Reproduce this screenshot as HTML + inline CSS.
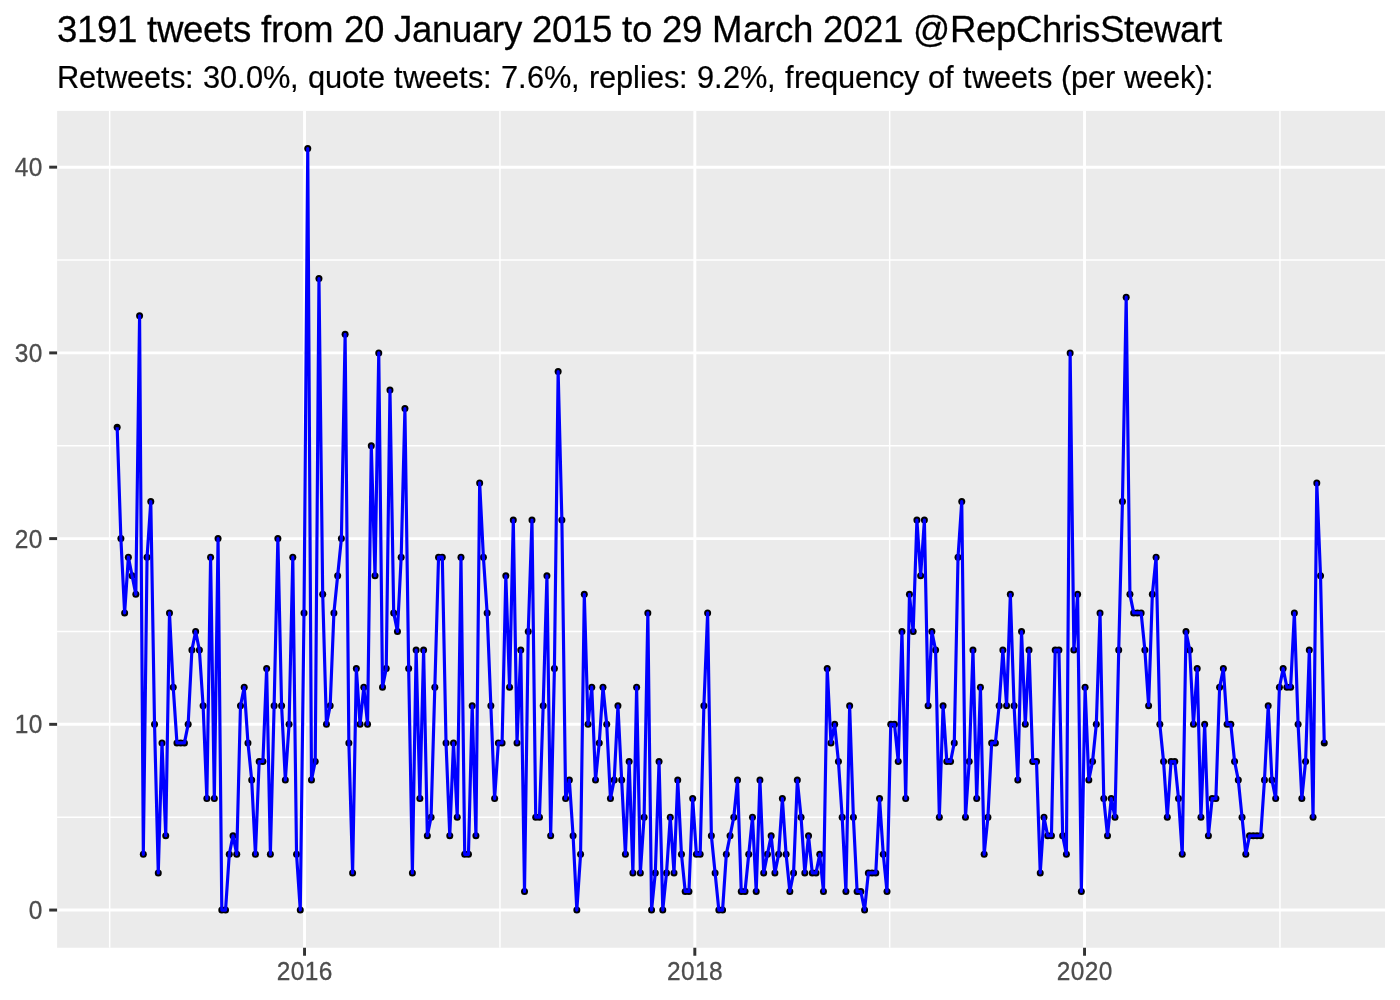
<!DOCTYPE html>
<html lang="en">
<head>
<meta charset="utf-8">
<title>3191 tweets from 20 January 2015 to 29 March 2021 @RepChrisStewart</title>
<style>
html,body{margin:0;padding:0;background:#fff;}
body{width:1400px;height:1000px;overflow:hidden;font-family:"Liberation Sans",Arial,Helvetica,sans-serif;}
svg{display:block;}
svg text{font-family:"Liberation Sans",Arial,Helvetica,sans-serif;white-space:pre;}
.ttl{font-size:36.67px;fill:#000;stroke:#000;stroke-width:0.25;}
.sub{font-size:30.8px;fill:#000;stroke:#000;stroke-width:0.2;}
.ax{font-size:24.44px;fill:#4d4d4d;stroke:#4d4d4d;stroke-width:0.3;}
.gM{stroke:#fff;stroke-width:2.96;fill:none;}
.gm{stroke:#fff;stroke-width:1.48;fill:none;}
.tk{stroke:#333;stroke-width:2.96;fill:none;}
.ln{stroke:#0000ff;stroke-width:3.15;fill:none;stroke-linejoin:round;stroke-linecap:butt;}
.pt circle{fill:#000;}
</style>
</head>
<body>
<svg width="1400" height="1000" viewBox="0 0 1400 1000">
<rect x="0" y="0" width="1400" height="1000" fill="#ffffff"/>
<text class="ttl" transform="translate(0,41.9) scale(1,1.03)" x="57 77 97 117 137 147 157 183 203 223 233 251 261 271 283 303 334 344 364 384 394 412 432 452 472 492 504 522 532 552 572 592 612 622 632 652 662 682 702 712 743 763 775 793 813 823 843 863 883 903 913 950 976 996 1016 1042 1062 1074 1082 1100 1124 1134 1154 1180 1200 1212" y="0">3191 tweets from 20 January 2015 to 29 March 2021 @RepChrisStewart</text>
<text class="sub" transform="translate(0,87.9) scale(1,1.01)" x="57 79 96 105 127 144 161 170 185 194 203 220 237 246 263 290 299 308 325 342 359 368 385 394 403 425 442 459 468 483 492 501 518 527 544 571 580 589 599 616 633 640 647 664 679 688 697 714 723 740 767 776 785 794 804 821 838 855 872 889 904 919 928 945 954 963 972 994 1011 1028 1037 1052 1061 1071 1088 1105 1115 1124 1146 1163 1180 1195 1205" y="0">Retweets: 30.0%, quote tweets: 7.6%, replies: 9.2%, frequency of tweets (per week):</text>
<rect x="57.1" y="110.9" width="1327.9" height="836.85" fill="#ebebeb"/>
<g class="gm">
<line x1="57.1" x2="1385" y1="817.19" y2="817.19"/>
<line x1="57.1" x2="1385" y1="631.47" y2="631.47"/>
<line x1="57.1" x2="1385" y1="445.75" y2="445.75"/>
<line x1="57.1" x2="1385" y1="260.03" y2="260.03"/>
<line x1="109.68" x2="109.68" y1="110.9" y2="947.75"/>
<line x1="499.95" x2="499.95" y1="110.9" y2="947.75"/>
<line x1="889.68" x2="889.68" y1="110.9" y2="947.75"/>
<line x1="1279.95" x2="1279.95" y1="110.9" y2="947.75"/>
</g>
<g class="gM">
<line x1="57.1" x2="1385" y1="910.05" y2="910.05"/>
<line x1="57.1" x2="1385" y1="724.33" y2="724.33"/>
<line x1="57.1" x2="1385" y1="538.61" y2="538.61"/>
<line x1="57.1" x2="1385" y1="352.89" y2="352.89"/>
<line x1="57.1" x2="1385" y1="167.17" y2="167.17"/>
<line x1="304.55" x2="304.55" y1="110.9" y2="947.75"/>
<line x1="694.82" x2="694.82" y1="110.9" y2="947.75"/>
<line x1="1084.55" x2="1084.55" y1="110.9" y2="947.75"/>
</g>
<g class="pt">
<circle cx="117.16" cy="427.18" r="3.5"/><circle cx="120.89" cy="538.61" r="3.5"/><circle cx="124.63" cy="612.9" r="3.5"/><circle cx="128.37" cy="557.18" r="3.5"/><circle cx="132.11" cy="575.75" r="3.5"/><circle cx="135.84" cy="594.33" r="3.5"/>
<circle cx="139.58" cy="315.75" r="3.5"/><circle cx="143.32" cy="854.33" r="3.5"/><circle cx="147.06" cy="557.18" r="3.5"/><circle cx="150.79" cy="501.47" r="3.5"/><circle cx="154.53" cy="724.33" r="3.5"/><circle cx="158.27" cy="872.91" r="3.5"/>
<circle cx="162" cy="742.9" r="3.5"/><circle cx="165.74" cy="835.76" r="3.5"/><circle cx="169.48" cy="612.9" r="3.5"/><circle cx="173.22" cy="687.19" r="3.5"/><circle cx="176.95" cy="742.9" r="3.5"/><circle cx="180.69" cy="742.9" r="3.5"/>
<circle cx="184.43" cy="742.9" r="3.5"/><circle cx="188.16" cy="724.33" r="3.5"/><circle cx="191.9" cy="650.04" r="3.5"/><circle cx="195.64" cy="631.47" r="3.5"/><circle cx="199.38" cy="650.04" r="3.5"/><circle cx="203.11" cy="705.76" r="3.5"/>
<circle cx="206.85" cy="798.62" r="3.5"/><circle cx="210.59" cy="557.18" r="3.5"/><circle cx="214.32" cy="798.62" r="3.5"/><circle cx="218.06" cy="538.61" r="3.5"/><circle cx="221.8" cy="910.05" r="3.5"/><circle cx="225.54" cy="910.05" r="3.5"/>
<circle cx="229.27" cy="854.33" r="3.5"/><circle cx="233.01" cy="835.76" r="3.5"/><circle cx="236.75" cy="854.33" r="3.5"/><circle cx="240.48" cy="705.76" r="3.5"/><circle cx="244.22" cy="687.19" r="3.5"/><circle cx="247.96" cy="742.9" r="3.5"/>
<circle cx="251.7" cy="780.05" r="3.5"/><circle cx="255.43" cy="854.33" r="3.5"/><circle cx="259.17" cy="761.47" r="3.5"/><circle cx="262.91" cy="761.47" r="3.5"/><circle cx="266.64" cy="668.61" r="3.5"/><circle cx="270.38" cy="854.33" r="3.5"/>
<circle cx="274.12" cy="705.76" r="3.5"/><circle cx="277.86" cy="538.61" r="3.5"/><circle cx="281.59" cy="705.76" r="3.5"/><circle cx="285.33" cy="780.05" r="3.5"/><circle cx="289.07" cy="724.33" r="3.5"/><circle cx="292.8" cy="557.18" r="3.5"/>
<circle cx="296.54" cy="854.33" r="3.5"/><circle cx="300.28" cy="910.05" r="3.5"/><circle cx="304.02" cy="612.9" r="3.5"/><circle cx="307.75" cy="148.6" r="3.5"/><circle cx="311.49" cy="780.05" r="3.5"/><circle cx="315.23" cy="761.47" r="3.5"/>
<circle cx="318.96" cy="278.6" r="3.5"/><circle cx="322.7" cy="594.33" r="3.5"/><circle cx="326.44" cy="724.33" r="3.5"/><circle cx="330.18" cy="705.76" r="3.5"/><circle cx="333.91" cy="612.9" r="3.5"/><circle cx="337.65" cy="575.75" r="3.5"/>
<circle cx="341.39" cy="538.61" r="3.5"/><circle cx="345.12" cy="334.32" r="3.5"/><circle cx="348.86" cy="742.9" r="3.5"/><circle cx="352.6" cy="872.91" r="3.5"/><circle cx="356.34" cy="668.61" r="3.5"/><circle cx="360.07" cy="724.33" r="3.5"/>
<circle cx="363.81" cy="687.19" r="3.5"/><circle cx="367.55" cy="724.33" r="3.5"/><circle cx="371.29" cy="445.75" r="3.5"/><circle cx="375.02" cy="575.75" r="3.5"/><circle cx="378.76" cy="352.89" r="3.5"/><circle cx="382.5" cy="687.19" r="3.5"/>
<circle cx="386.23" cy="668.61" r="3.5"/><circle cx="389.97" cy="390.03" r="3.5"/><circle cx="393.71" cy="612.9" r="3.5"/><circle cx="397.45" cy="631.47" r="3.5"/><circle cx="401.18" cy="557.18" r="3.5"/><circle cx="404.92" cy="408.61" r="3.5"/>
<circle cx="408.66" cy="668.61" r="3.5"/><circle cx="412.39" cy="872.91" r="3.5"/><circle cx="416.13" cy="650.04" r="3.5"/><circle cx="419.87" cy="798.62" r="3.5"/><circle cx="423.61" cy="650.04" r="3.5"/><circle cx="427.34" cy="835.76" r="3.5"/>
<circle cx="431.08" cy="817.19" r="3.5"/><circle cx="434.82" cy="687.19" r="3.5"/><circle cx="438.55" cy="557.18" r="3.5"/><circle cx="442.29" cy="557.18" r="3.5"/><circle cx="446.03" cy="742.9" r="3.5"/><circle cx="449.77" cy="835.76" r="3.5"/>
<circle cx="453.5" cy="742.9" r="3.5"/><circle cx="457.24" cy="817.19" r="3.5"/><circle cx="460.98" cy="557.18" r="3.5"/><circle cx="464.71" cy="854.33" r="3.5"/><circle cx="468.45" cy="854.33" r="3.5"/><circle cx="472.19" cy="705.76" r="3.5"/>
<circle cx="475.93" cy="835.76" r="3.5"/><circle cx="479.66" cy="482.89" r="3.5"/><circle cx="483.4" cy="557.18" r="3.5"/><circle cx="487.14" cy="612.9" r="3.5"/><circle cx="490.87" cy="705.76" r="3.5"/><circle cx="494.61" cy="798.62" r="3.5"/>
<circle cx="498.35" cy="742.9" r="3.5"/><circle cx="502.09" cy="742.9" r="3.5"/><circle cx="505.82" cy="575.75" r="3.5"/><circle cx="509.56" cy="687.19" r="3.5"/><circle cx="513.3" cy="520.04" r="3.5"/><circle cx="517.03" cy="742.9" r="3.5"/>
<circle cx="520.77" cy="650.04" r="3.5"/><circle cx="524.51" cy="891.48" r="3.5"/><circle cx="528.25" cy="631.47" r="3.5"/><circle cx="531.98" cy="520.04" r="3.5"/><circle cx="535.72" cy="817.19" r="3.5"/><circle cx="539.46" cy="817.19" r="3.5"/>
<circle cx="543.19" cy="705.76" r="3.5"/><circle cx="546.93" cy="575.75" r="3.5"/><circle cx="550.67" cy="835.76" r="3.5"/><circle cx="554.41" cy="668.61" r="3.5"/><circle cx="558.14" cy="371.46" r="3.5"/><circle cx="561.88" cy="520.04" r="3.5"/>
<circle cx="565.62" cy="798.62" r="3.5"/><circle cx="569.35" cy="780.05" r="3.5"/><circle cx="573.09" cy="835.76" r="3.5"/><circle cx="576.83" cy="910.05" r="3.5"/><circle cx="580.57" cy="854.33" r="3.5"/><circle cx="584.3" cy="594.33" r="3.5"/>
<circle cx="588.04" cy="724.33" r="3.5"/><circle cx="591.78" cy="687.19" r="3.5"/><circle cx="595.52" cy="780.05" r="3.5"/><circle cx="599.25" cy="742.9" r="3.5"/><circle cx="602.99" cy="687.19" r="3.5"/><circle cx="606.73" cy="724.33" r="3.5"/>
<circle cx="610.46" cy="798.62" r="3.5"/><circle cx="614.2" cy="780.05" r="3.5"/><circle cx="617.94" cy="705.76" r="3.5"/><circle cx="621.68" cy="780.05" r="3.5"/><circle cx="625.41" cy="854.33" r="3.5"/><circle cx="629.15" cy="761.47" r="3.5"/>
<circle cx="632.89" cy="872.91" r="3.5"/><circle cx="636.62" cy="687.19" r="3.5"/><circle cx="640.36" cy="872.91" r="3.5"/><circle cx="644.1" cy="817.19" r="3.5"/><circle cx="647.84" cy="612.9" r="3.5"/><circle cx="651.57" cy="910.05" r="3.5"/>
<circle cx="655.31" cy="872.91" r="3.5"/><circle cx="659.05" cy="761.47" r="3.5"/><circle cx="662.78" cy="910.05" r="3.5"/><circle cx="666.52" cy="872.91" r="3.5"/><circle cx="670.26" cy="817.19" r="3.5"/><circle cx="674" cy="872.91" r="3.5"/>
<circle cx="677.73" cy="780.05" r="3.5"/><circle cx="681.47" cy="854.33" r="3.5"/><circle cx="685.21" cy="891.48" r="3.5"/><circle cx="688.94" cy="891.48" r="3.5"/><circle cx="692.68" cy="798.62" r="3.5"/><circle cx="696.42" cy="854.33" r="3.5"/>
<circle cx="700.16" cy="854.33" r="3.5"/><circle cx="703.89" cy="705.76" r="3.5"/><circle cx="707.63" cy="612.9" r="3.5"/><circle cx="711.37" cy="835.76" r="3.5"/><circle cx="715.1" cy="872.91" r="3.5"/><circle cx="718.84" cy="910.05" r="3.5"/>
<circle cx="722.58" cy="910.05" r="3.5"/><circle cx="726.32" cy="854.33" r="3.5"/><circle cx="730.05" cy="835.76" r="3.5"/><circle cx="733.79" cy="817.19" r="3.5"/><circle cx="737.53" cy="780.05" r="3.5"/><circle cx="741.26" cy="891.48" r="3.5"/>
<circle cx="745" cy="891.48" r="3.5"/><circle cx="748.74" cy="854.33" r="3.5"/><circle cx="752.48" cy="817.19" r="3.5"/><circle cx="756.21" cy="891.48" r="3.5"/><circle cx="759.95" cy="780.05" r="3.5"/><circle cx="763.69" cy="872.91" r="3.5"/>
<circle cx="767.42" cy="854.33" r="3.5"/><circle cx="771.16" cy="835.76" r="3.5"/><circle cx="774.9" cy="872.91" r="3.5"/><circle cx="778.64" cy="854.33" r="3.5"/><circle cx="782.37" cy="798.62" r="3.5"/><circle cx="786.11" cy="854.33" r="3.5"/>
<circle cx="789.85" cy="891.48" r="3.5"/><circle cx="793.58" cy="872.91" r="3.5"/><circle cx="797.32" cy="780.05" r="3.5"/><circle cx="801.06" cy="817.19" r="3.5"/><circle cx="804.8" cy="872.91" r="3.5"/><circle cx="808.53" cy="835.76" r="3.5"/>
<circle cx="812.27" cy="872.91" r="3.5"/><circle cx="816.01" cy="872.91" r="3.5"/><circle cx="819.75" cy="854.33" r="3.5"/><circle cx="823.48" cy="891.48" r="3.5"/><circle cx="827.22" cy="668.61" r="3.5"/><circle cx="830.96" cy="742.9" r="3.5"/>
<circle cx="834.69" cy="724.33" r="3.5"/><circle cx="838.43" cy="761.47" r="3.5"/><circle cx="842.17" cy="817.19" r="3.5"/><circle cx="845.91" cy="891.48" r="3.5"/><circle cx="849.64" cy="705.76" r="3.5"/><circle cx="853.38" cy="817.19" r="3.5"/>
<circle cx="857.12" cy="891.48" r="3.5"/><circle cx="860.85" cy="891.48" r="3.5"/><circle cx="864.59" cy="910.05" r="3.5"/><circle cx="868.33" cy="872.91" r="3.5"/><circle cx="872.07" cy="872.91" r="3.5"/><circle cx="875.8" cy="872.91" r="3.5"/>
<circle cx="879.54" cy="798.62" r="3.5"/><circle cx="883.28" cy="854.33" r="3.5"/><circle cx="887.01" cy="891.48" r="3.5"/><circle cx="890.75" cy="724.33" r="3.5"/><circle cx="894.49" cy="724.33" r="3.5"/><circle cx="898.23" cy="761.47" r="3.5"/>
<circle cx="901.96" cy="631.47" r="3.5"/><circle cx="905.7" cy="798.62" r="3.5"/><circle cx="909.44" cy="594.33" r="3.5"/><circle cx="913.17" cy="631.47" r="3.5"/><circle cx="916.91" cy="520.04" r="3.5"/><circle cx="920.65" cy="575.75" r="3.5"/>
<circle cx="924.39" cy="520.04" r="3.5"/><circle cx="928.12" cy="705.76" r="3.5"/><circle cx="931.86" cy="631.47" r="3.5"/><circle cx="935.6" cy="650.04" r="3.5"/><circle cx="939.33" cy="817.19" r="3.5"/><circle cx="943.07" cy="705.76" r="3.5"/>
<circle cx="946.81" cy="761.47" r="3.5"/><circle cx="950.55" cy="761.47" r="3.5"/><circle cx="954.28" cy="742.9" r="3.5"/><circle cx="958.02" cy="557.18" r="3.5"/><circle cx="961.76" cy="501.47" r="3.5"/><circle cx="965.49" cy="817.19" r="3.5"/>
<circle cx="969.23" cy="761.47" r="3.5"/><circle cx="972.97" cy="650.04" r="3.5"/><circle cx="976.71" cy="798.62" r="3.5"/><circle cx="980.44" cy="687.19" r="3.5"/><circle cx="984.18" cy="854.33" r="3.5"/><circle cx="987.92" cy="817.19" r="3.5"/>
<circle cx="991.65" cy="742.9" r="3.5"/><circle cx="995.39" cy="742.9" r="3.5"/><circle cx="999.13" cy="705.76" r="3.5"/><circle cx="1002.87" cy="650.04" r="3.5"/><circle cx="1006.6" cy="705.76" r="3.5"/><circle cx="1010.34" cy="594.33" r="3.5"/>
<circle cx="1014.08" cy="705.76" r="3.5"/><circle cx="1017.81" cy="780.05" r="3.5"/><circle cx="1021.55" cy="631.47" r="3.5"/><circle cx="1025.29" cy="724.33" r="3.5"/><circle cx="1029.03" cy="650.04" r="3.5"/><circle cx="1032.76" cy="761.47" r="3.5"/>
<circle cx="1036.5" cy="761.47" r="3.5"/><circle cx="1040.24" cy="872.91" r="3.5"/><circle cx="1043.98" cy="817.19" r="3.5"/><circle cx="1047.71" cy="835.76" r="3.5"/><circle cx="1051.45" cy="835.76" r="3.5"/><circle cx="1055.19" cy="650.04" r="3.5"/>
<circle cx="1058.92" cy="650.04" r="3.5"/><circle cx="1062.66" cy="835.76" r="3.5"/><circle cx="1066.4" cy="854.33" r="3.5"/><circle cx="1070.14" cy="352.89" r="3.5"/><circle cx="1073.87" cy="650.04" r="3.5"/><circle cx="1077.61" cy="594.33" r="3.5"/>
<circle cx="1081.35" cy="891.48" r="3.5"/><circle cx="1085.08" cy="687.19" r="3.5"/><circle cx="1088.82" cy="780.05" r="3.5"/><circle cx="1092.56" cy="761.47" r="3.5"/><circle cx="1096.3" cy="724.33" r="3.5"/><circle cx="1100.03" cy="612.9" r="3.5"/>
<circle cx="1103.77" cy="798.62" r="3.5"/><circle cx="1107.51" cy="835.76" r="3.5"/><circle cx="1111.24" cy="798.62" r="3.5"/><circle cx="1114.98" cy="817.19" r="3.5"/><circle cx="1118.72" cy="650.04" r="3.5"/><circle cx="1122.46" cy="501.47" r="3.5"/>
<circle cx="1126.19" cy="297.17" r="3.5"/><circle cx="1129.93" cy="594.33" r="3.5"/><circle cx="1133.67" cy="612.9" r="3.5"/><circle cx="1137.4" cy="612.9" r="3.5"/><circle cx="1141.14" cy="612.9" r="3.5"/><circle cx="1144.88" cy="650.04" r="3.5"/>
<circle cx="1148.62" cy="705.76" r="3.5"/><circle cx="1152.35" cy="594.33" r="3.5"/><circle cx="1156.09" cy="557.18" r="3.5"/><circle cx="1159.83" cy="724.33" r="3.5"/><circle cx="1163.56" cy="761.47" r="3.5"/><circle cx="1167.3" cy="817.19" r="3.5"/>
<circle cx="1171.04" cy="761.47" r="3.5"/><circle cx="1174.78" cy="761.47" r="3.5"/><circle cx="1178.51" cy="798.62" r="3.5"/><circle cx="1182.25" cy="854.33" r="3.5"/><circle cx="1185.99" cy="631.47" r="3.5"/><circle cx="1189.72" cy="650.04" r="3.5"/>
<circle cx="1193.46" cy="724.33" r="3.5"/><circle cx="1197.2" cy="668.61" r="3.5"/><circle cx="1200.94" cy="817.19" r="3.5"/><circle cx="1204.67" cy="724.33" r="3.5"/><circle cx="1208.41" cy="835.76" r="3.5"/><circle cx="1212.15" cy="798.62" r="3.5"/>
<circle cx="1215.88" cy="798.62" r="3.5"/><circle cx="1219.62" cy="687.19" r="3.5"/><circle cx="1223.36" cy="668.61" r="3.5"/><circle cx="1227.1" cy="724.33" r="3.5"/><circle cx="1230.83" cy="724.33" r="3.5"/><circle cx="1234.57" cy="761.47" r="3.5"/>
<circle cx="1238.31" cy="780.05" r="3.5"/><circle cx="1242.04" cy="817.19" r="3.5"/><circle cx="1245.78" cy="854.33" r="3.5"/><circle cx="1249.52" cy="835.76" r="3.5"/><circle cx="1253.26" cy="835.76" r="3.5"/><circle cx="1256.99" cy="835.76" r="3.5"/>
<circle cx="1260.73" cy="835.76" r="3.5"/><circle cx="1264.47" cy="780.05" r="3.5"/><circle cx="1268.21" cy="705.76" r="3.5"/><circle cx="1271.94" cy="780.05" r="3.5"/><circle cx="1275.68" cy="798.62" r="3.5"/><circle cx="1279.42" cy="687.19" r="3.5"/>
<circle cx="1283.15" cy="668.61" r="3.5"/><circle cx="1286.89" cy="687.19" r="3.5"/><circle cx="1290.63" cy="687.19" r="3.5"/><circle cx="1294.37" cy="612.9" r="3.5"/><circle cx="1298.1" cy="724.33" r="3.5"/><circle cx="1301.84" cy="798.62" r="3.5"/>
<circle cx="1305.58" cy="761.47" r="3.5"/><circle cx="1309.31" cy="650.04" r="3.5"/><circle cx="1313.05" cy="817.19" r="3.5"/><circle cx="1316.79" cy="482.89" r="3.5"/><circle cx="1320.53" cy="575.75" r="3.5"/><circle cx="1324.26" cy="742.9" r="3.5"/>

</g>
<polyline class="ln" points="117.16,427.18 120.89,538.61 124.63,612.9 128.37,557.18 132.11,575.75 135.84,594.33 139.58,315.75 143.32,854.33 147.06,557.18 150.79,501.47 154.53,724.33 158.27,872.91 162,742.9 165.74,835.76 169.48,612.9 173.22,687.19 176.95,742.9 180.69,742.9 184.43,742.9 188.16,724.33 191.9,650.04 195.64,631.47 199.38,650.04 203.11,705.76 206.85,798.62 210.59,557.18 214.32,798.62 218.06,538.61 221.8,910.05 225.54,910.05 229.27,854.33 233.01,835.76 236.75,854.33 240.48,705.76 244.22,687.19 247.96,742.9 251.7,780.05 255.43,854.33 259.17,761.47 262.91,761.47 266.64,668.61 270.38,854.33 274.12,705.76 277.86,538.61 281.59,705.76 285.33,780.05 289.07,724.33 292.8,557.18 296.54,854.33 300.28,910.05 304.02,612.9 307.75,148.6 311.49,780.05 315.23,761.47 318.96,278.6 322.7,594.33 326.44,724.33 330.18,705.76 333.91,612.9 337.65,575.75 341.39,538.61 345.12,334.32 348.86,742.9 352.6,872.91 356.34,668.61 360.07,724.33 363.81,687.19 367.55,724.33 371.29,445.75 375.02,575.75 378.76,352.89 382.5,687.19 386.23,668.61 389.97,390.03 393.71,612.9 397.45,631.47 401.18,557.18 404.92,408.61 408.66,668.61 412.39,872.91 416.13,650.04 419.87,798.62 423.61,650.04 427.34,835.76 431.08,817.19 434.82,687.19 438.55,557.18 442.29,557.18 446.03,742.9 449.77,835.76 453.5,742.9 457.24,817.19 460.98,557.18 464.71,854.33 468.45,854.33 472.19,705.76 475.93,835.76 479.66,482.89 483.4,557.18 487.14,612.9 490.87,705.76 494.61,798.62 498.35,742.9 502.09,742.9 505.82,575.75 509.56,687.19 513.3,520.04 517.03,742.9 520.77,650.04 524.51,891.48 528.25,631.47 531.98,520.04 535.72,817.19 539.46,817.19 543.19,705.76 546.93,575.75 550.67,835.76 554.41,668.61 558.14,371.46 561.88,520.04 565.62,798.62 569.35,780.05 573.09,835.76 576.83,910.05 580.57,854.33 584.3,594.33 588.04,724.33 591.78,687.19 595.52,780.05 599.25,742.9 602.99,687.19 606.73,724.33 610.46,798.62 614.2,780.05 617.94,705.76 621.68,780.05 625.41,854.33 629.15,761.47 632.89,872.91 636.62,687.19 640.36,872.91 644.1,817.19 647.84,612.9 651.57,910.05 655.31,872.91 659.05,761.47 662.78,910.05 666.52,872.91 670.26,817.19 674,872.91 677.73,780.05 681.47,854.33 685.21,891.48 688.94,891.48 692.68,798.62 696.42,854.33 700.16,854.33 703.89,705.76 707.63,612.9 711.37,835.76 715.1,872.91 718.84,910.05 722.58,910.05 726.32,854.33 730.05,835.76 733.79,817.19 737.53,780.05 741.26,891.48 745,891.48 748.74,854.33 752.48,817.19 756.21,891.48 759.95,780.05 763.69,872.91 767.42,854.33 771.16,835.76 774.9,872.91 778.64,854.33 782.37,798.62 786.11,854.33 789.85,891.48 793.58,872.91 797.32,780.05 801.06,817.19 804.8,872.91 808.53,835.76 812.27,872.91 816.01,872.91 819.75,854.33 823.48,891.48 827.22,668.61 830.96,742.9 834.69,724.33 838.43,761.47 842.17,817.19 845.91,891.48 849.64,705.76 853.38,817.19 857.12,891.48 860.85,891.48 864.59,910.05 868.33,872.91 872.07,872.91 875.8,872.91 879.54,798.62 883.28,854.33 887.01,891.48 890.75,724.33 894.49,724.33 898.23,761.47 901.96,631.47 905.7,798.62 909.44,594.33 913.17,631.47 916.91,520.04 920.65,575.75 924.39,520.04 928.12,705.76 931.86,631.47 935.6,650.04 939.33,817.19 943.07,705.76 946.81,761.47 950.55,761.47 954.28,742.9 958.02,557.18 961.76,501.47 965.49,817.19 969.23,761.47 972.97,650.04 976.71,798.62 980.44,687.19 984.18,854.33 987.92,817.19 991.65,742.9 995.39,742.9 999.13,705.76 1002.87,650.04 1006.6,705.76 1010.34,594.33 1014.08,705.76 1017.81,780.05 1021.55,631.47 1025.29,724.33 1029.03,650.04 1032.76,761.47 1036.5,761.47 1040.24,872.91 1043.98,817.19 1047.71,835.76 1051.45,835.76 1055.19,650.04 1058.92,650.04 1062.66,835.76 1066.4,854.33 1070.14,352.89 1073.87,650.04 1077.61,594.33 1081.35,891.48 1085.08,687.19 1088.82,780.05 1092.56,761.47 1096.3,724.33 1100.03,612.9 1103.77,798.62 1107.51,835.76 1111.24,798.62 1114.98,817.19 1118.72,650.04 1122.46,501.47 1126.19,297.17 1129.93,594.33 1133.67,612.9 1137.4,612.9 1141.14,612.9 1144.88,650.04 1148.62,705.76 1152.35,594.33 1156.09,557.18 1159.83,724.33 1163.56,761.47 1167.3,817.19 1171.04,761.47 1174.78,761.47 1178.51,798.62 1182.25,854.33 1185.99,631.47 1189.72,650.04 1193.46,724.33 1197.2,668.61 1200.94,817.19 1204.67,724.33 1208.41,835.76 1212.15,798.62 1215.88,798.62 1219.62,687.19 1223.36,668.61 1227.1,724.33 1230.83,724.33 1234.57,761.47 1238.31,780.05 1242.04,817.19 1245.78,854.33 1249.52,835.76 1253.26,835.76 1256.99,835.76 1260.73,835.76 1264.47,780.05 1268.21,705.76 1271.94,780.05 1275.68,798.62 1279.42,687.19 1283.15,668.61 1286.89,687.19 1290.63,687.19 1294.37,612.9 1298.1,724.33 1301.84,798.62 1305.58,761.47 1309.31,650.04 1313.05,817.19 1316.79,482.89 1320.53,575.75 1324.26,742.9"/>
<g class="tk">
<line x1="49.2" x2="57.1" y1="910.05" y2="910.05"/>
<line x1="49.2" x2="57.1" y1="724.33" y2="724.33"/>
<line x1="49.2" x2="57.1" y1="538.61" y2="538.61"/>
<line x1="49.2" x2="57.1" y1="352.89" y2="352.89"/>
<line x1="49.2" x2="57.1" y1="167.17" y2="167.17"/>
<line x1="304.55" x2="304.55" y1="947.75" y2="955.75"/>
<line x1="694.82" x2="694.82" y1="947.75" y2="955.75"/>
<line x1="1084.55" x2="1084.55" y1="947.75" y2="955.75"/>
</g>
<text class="ax" transform="translate(0,919.2) scale(1,1.09)" x="28.7" y="0">0</text>
<text class="ax" transform="translate(0,733.48) scale(1,1.09)" x="14.7 28.7" y="0">10</text>
<text class="ax" transform="translate(0,547.76) scale(1,1.09)" x="14.7 28.7" y="0">20</text>
<text class="ax" transform="translate(0,362.04) scale(1,1.09)" x="14.7 28.7" y="0">30</text>
<text class="ax" transform="translate(0,176.32) scale(1,1.09)" x="14.7 28.7" y="0">40</text>
<text class="ax" transform="translate(0,980) scale(1,1.09)" x="276.85 290.85 304.85 318.85" y="0">2016</text>
<text class="ax" transform="translate(0,980) scale(1,1.09)" x="667.12 681.12 695.12 709.12" y="0">2018</text>
<text class="ax" transform="translate(0,980) scale(1,1.09)" x="1056.85 1070.85 1084.85 1098.85" y="0">2020</text>
</svg>
</body>
</html>
